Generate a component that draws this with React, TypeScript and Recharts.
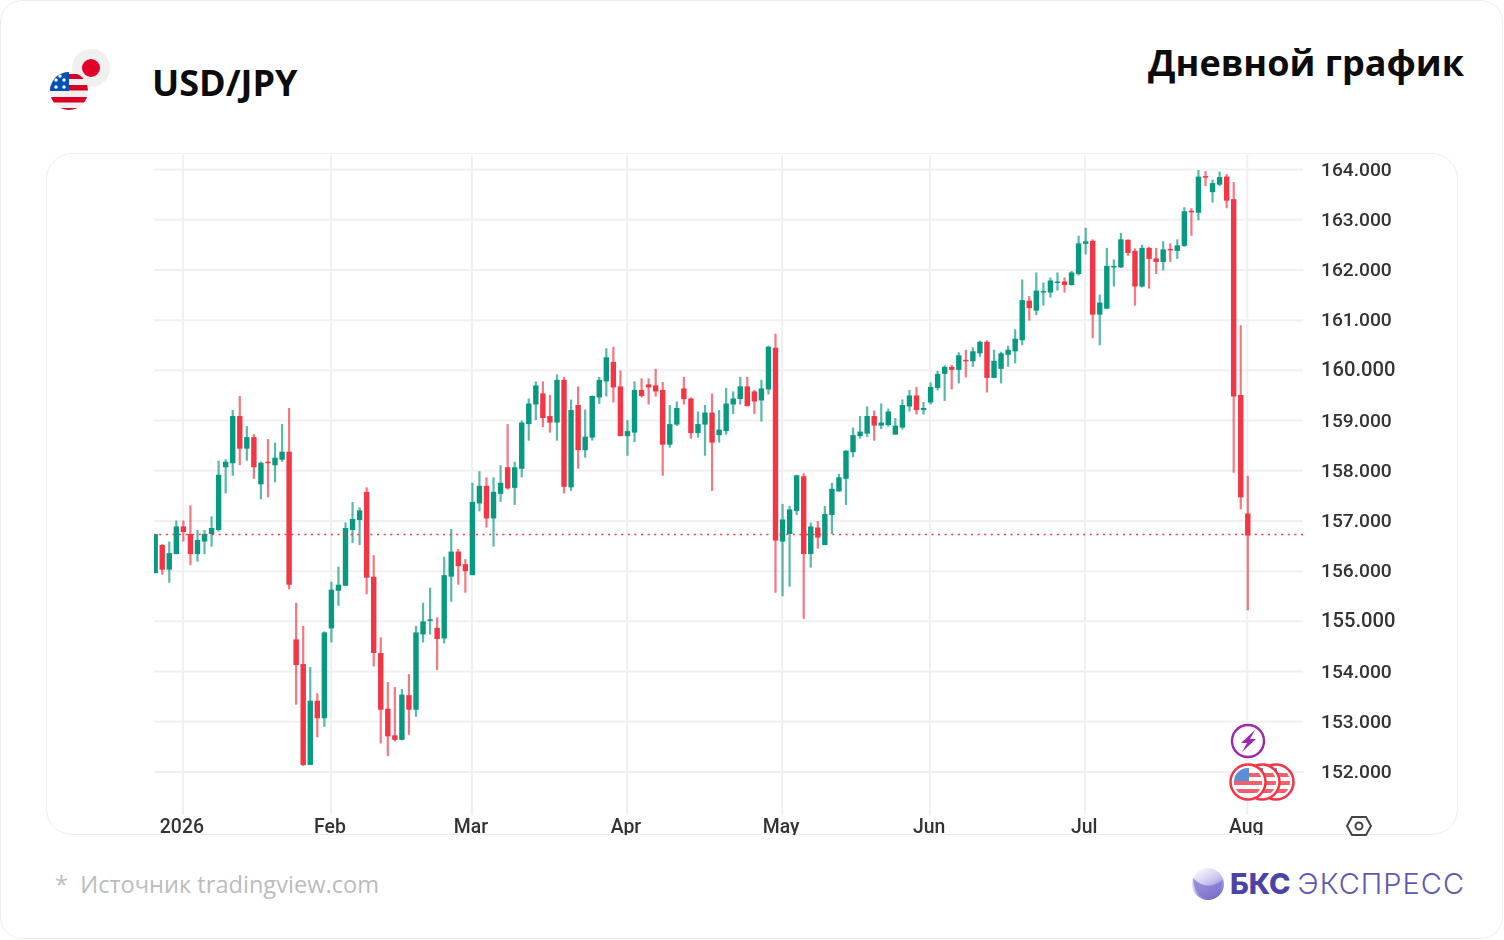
import React from 'react';
import { ComposedChart, Bar, XAxis, YAxis, CartesianGrid, ReferenceLine } from 'recharts';

const opens = [
  155.96, 156.52, 156.03, 156.34, 156.89, 156.74, 156.34, 156.59, 156.74, 156.82,
  158.07, 158.15, 159.09, 158.44, 158.67, 157.73, 158.18, 158.11, 158.22, 158.38,
  154.64, 154.15, 152.14, 153.42, 153.07, 154.86, 155.61, 155.71, 156.82, 157.02,
  157.58, 155.89, 154.37, 153.26, 152.73, 152.64, 153.53, 153.24, 154.74, 155.02,
  154.87, 154.66, 155.89, 156.39, 156.14, 155.92, 157.35, 157.70, 157.05, 157.54,
  158.07, 157.66, 158.04, 158.93, 159.32, 159.54, 159.09, 158.96, 159.81, 157.67,
  159.31, 158.41, 158.66, 159.46, 159.78, 160.17, 159.68, 158.69, 158.76, 159.61,
  159.72, 159.70, 159.61, 158.52, 158.92, 159.64, 159.44, 158.75, 158.92, 159.16,
  158.71, 158.79, 159.32, 159.43, 159.68, 159.58, 159.40, 159.62, 160.45, 156.59,
  156.74, 157.20, 157.89, 156.34, 156.87, 156.52, 157.12, 157.59, 157.84, 158.37,
  158.69, 158.74, 159.09, 158.90, 158.91, 158.72, 158.86, 159.28, 159.50, 159.21,
  159.36, 159.65, 159.93, 160.07, 160.01, 160.21, 160.18, 160.34, 160.57, 159.85,
  160.03, 160.31, 160.38, 160.60, 161.39, 161.19, 161.55, 161.55, 161.75, 161.77,
  161.70, 161.92, 162.52, 162.58, 161.11, 161.23, 162.05, 162.05, 162.60, 162.38,
  161.67, 162.44, 162.23, 162.16, 162.42, 162.38, 162.48, 163.18, 163.14, 163.87,
  163.55, 163.70, 163.86, 163.41, 159.51, 157.15,
];
const closes = [
  156.74, 156.03, 156.36, 156.89, 156.78, 156.34, 156.62, 156.74, 156.86, 157.92,
  158.18, 159.09, 158.44, 158.67, 158.07, 158.16, 158.16, 158.26, 158.38, 155.73,
  154.13, 152.14, 153.42, 153.07, 154.78, 155.63, 155.73, 156.86, 157.04, 157.21,
  155.87, 154.37, 153.24, 152.71, 152.64, 153.54, 153.24, 154.78, 155.00, 155.04,
  154.65, 155.92, 156.39, 156.10, 156.00, 157.38, 157.70, 157.05, 157.58, 157.76,
  157.65, 158.07, 158.96, 159.34, 159.70, 159.05, 158.96, 159.81, 157.68, 159.21,
  158.41, 158.68, 159.49, 159.81, 160.26, 159.66, 158.69, 158.79, 159.61, 159.49,
  159.66, 159.58, 158.52, 158.93, 159.25, 159.43, 158.75, 158.93, 159.16, 158.56,
  158.82, 159.34, 159.44, 159.68, 159.29, 159.38, 159.64, 160.47, 156.61, 157.03,
  157.23, 157.91, 156.34, 156.89, 156.67, 157.14, 157.64, 157.87, 158.40, 158.71,
  158.78, 159.09, 158.90, 158.96, 159.18, 158.90, 159.31, 159.50, 159.21, 159.25,
  159.67, 159.93, 160.07, 160.01, 160.30, 160.18, 160.38, 160.57, 159.85, 160.19,
  160.34, 160.41, 160.63, 161.40, 161.24, 161.59, 161.58, 161.79, 161.77, 161.70,
  161.95, 162.53, 162.57, 161.11, 161.35, 162.08, 162.08, 162.61, 162.34, 161.67,
  162.44, 162.22, 162.16, 162.41, 162.40, 162.49, 163.17, 163.15, 163.86, 163.84,
  163.73, 163.85, 163.38, 159.48, 157.47, 156.71,
];
const highs = [
  156.74, 156.54, 156.59, 157.01, 157.01, 157.31, 156.82, 156.82, 157.09, 158.20,
  158.23, 159.21, 159.49, 158.89, 158.73, 158.18, 158.63, 158.56, 158.93, 159.25,
  155.37, 154.91, 154.09, 153.57, 154.80, 155.79, 156.09, 156.97, 157.38, 157.27,
  157.67, 156.32, 154.68, 153.79, 153.69, 153.65, 153.95, 154.91, 155.37, 155.67,
  155.08, 156.29, 156.84, 156.44, 156.24, 157.76, 157.99, 157.87, 157.87, 158.11,
  158.93, 158.18, 159.00, 159.44, 159.78, 159.78, 159.51, 159.92, 159.87, 159.42,
  159.68, 159.22, 159.50, 159.87, 160.44, 160.47, 160.00, 159.01, 159.78, 159.84,
  159.84, 160.03, 159.77, 159.31, 159.38, 159.87, 159.46, 159.18, 159.31, 159.54,
  159.21, 159.65, 159.58, 159.87, 159.87, 159.61, 159.81, 160.49, 160.73, 157.34,
  157.30, 157.92, 157.95, 156.97, 157.00, 157.30, 157.76, 157.94, 158.41, 158.86,
  159.09, 159.28, 159.20, 159.34, 159.24, 159.05, 159.42, 159.61, 159.67, 159.37,
  159.76, 159.99, 160.10, 160.11, 160.36, 160.41, 160.46, 160.59, 160.60, 160.41,
  160.37, 160.49, 160.82, 161.81, 161.48, 161.95, 161.75, 161.85, 161.95, 161.85,
  161.98, 162.68, 162.84, 162.61, 161.51, 162.44, 162.21, 162.74, 162.61, 162.43,
  162.50, 162.46, 162.44, 162.57, 162.53, 162.61, 163.25, 163.23, 163.99, 163.97,
  163.80, 163.96, 163.91, 163.75, 160.90, 157.90,
];
const lows = [
  155.96, 155.93, 155.77, 156.34, 156.59, 156.12, 156.19, 156.34, 156.49, 156.79,
  157.55, 157.90, 158.11, 158.20, 157.84, 157.43, 157.47, 157.77, 158.18, 155.64,
  153.34, 152.12, 152.14, 152.69, 152.90, 154.58, 155.31, 155.71, 156.56, 156.52,
  155.54, 154.10, 152.57, 152.32, 152.61, 152.63, 152.74, 153.10, 154.58, 154.74,
  154.03, 154.56, 155.39, 155.73, 155.57, 155.92, 157.19, 156.87, 156.49, 157.38,
  157.62, 157.32, 157.87, 158.60, 159.01, 158.87, 158.76, 158.60, 157.55, 157.60,
  158.04, 158.26, 158.60, 159.33, 159.48, 159.36, 158.69, 158.30, 158.57, 159.46,
  159.32, 159.48, 157.90, 158.46, 158.89, 159.32, 158.64, 158.66, 158.30, 157.60,
  158.56, 158.72, 159.13, 159.32, 159.28, 159.13, 158.98, 159.52, 155.57, 155.50,
  155.69, 157.12, 155.05, 156.07, 156.45, 156.52, 156.74, 157.58, 157.32, 158.27,
  158.64, 158.67, 158.60, 158.83, 158.88, 158.72, 158.82, 159.18, 159.12, 159.12,
  159.32, 159.60, 159.39, 159.62, 159.74, 159.86, 160.07, 160.27, 159.56, 159.85,
  159.74, 160.07, 160.14, 160.50, 160.99, 161.10, 161.29, 161.45, 161.59, 161.55,
  161.69, 161.89, 162.31, 160.64, 160.50, 161.22, 161.67, 162.04, 162.28, 161.29,
  161.65, 161.63, 161.92, 161.99, 162.16, 162.22, 162.46, 162.68, 162.99, 163.67,
  163.34, 163.67, 163.23, 157.96, 157.23, 155.22,
];

const monthIndexes = [4, 25, 45, 67, 89, 110, 132, 155];
const monthLabels = ['2026', 'Feb', 'Mar', 'Apr', 'May', 'Jun', 'Jul', 'Aug'];
const priceTicks = [152, 153, 154, 155, 156, 157, 158, 159, 160, 161, 162, 163, 164];
const lastPrice = 156.73;

const UP = '#089981';
const DOWN = '#f23645';
const TICK_FONT = 'Roboto, sans-serif';

const candles = opens.map((open, i) => ({
  index: i,
  open,
  close: closes[i],
  high: highs[i],
  low: lows[i],
  range: [lows[i], highs[i]],
}));

// фитиль и тело считаются от высоты диапазона high-low
const Candle = (props: any) => {
  const { x, y, width, height, payload } = props;
  const { open, close, high, low } = payload;
  const k = height / (high - low || 1);
  const top = y + (high - Math.max(open, close)) * k;
  const bottom = y + (high - Math.min(open, close)) * k;
  const cx = x + width / 2;
  const color = close >= open ? UP : DOWN;
  return (
    <g>
      <rect x={cx - 1.1} y={y} width={2.2} height={height} fill={color} fillOpacity={0.68} />
      <rect x={cx - 2.7} y={top} width={5.4} height={Math.max(bottom - top, 1.5)} fill={color} />
    </g>
  );
};

const PriceTick = (props: any) => {
  const { x, y, payload } = props;
  const wide = payload.value % 5 === 0;
  return (
    <text
      x={x + 12}
      y={y}
      dy={6}
      clipPath="url(#price-clip)"
      fill="#333"
      fontFamily={TICK_FONT}
      fontWeight={500}
      fontSize={wide ? 20.2 : 19.2}
    >
      {payload.value.toFixed(3)}
    </text>
  );
};

const MonthTick = (props: any) => {
  const { x, y, payload } = props;
  return (
    <text
      x={x - 1}
      y={y}
      dy={12}
      textAnchor="middle"
      fill="#333"
      fontFamily={TICK_FONT}
      fontWeight={500}
      fontSize={19.4}
    >
      {monthLabels[monthIndexes.indexOf(payload.value)]}
    </text>
  );
};

const Flag = ({ cx, cy }: { cx: number; cy: number }) => (
  <g>
    <circle cx={cx} cy={cy} r={17.5} fill="#fff" stroke="#f23645" strokeWidth={2.5} />
    <clipPath id={`flag-${cx}`}>
      <circle cx={cx} cy={cy} r={14} />
    </clipPath>
    <g clipPath={`url(#flag-${cx})`}>
      <rect x={cx - 14} y={cy - 9} width={28} height={4} fill="#f0606c" />
      <rect x={cx - 14} y={cy - 1} width={28} height={4} fill="#f0606c" />
      <rect x={cx - 14} y={cy + 7} width={28} height={4} fill="#f0606c" />
      <rect x={cx - 14} y={cy - 14} width={15} height={13} fill="#5a8fd8" />
    </g>
  </g>
);

const Decorations = () => (
  <svg width={1504} height={940} style={{ position: 'absolute', left: 0, top: 0, pointerEvents: 'none' }}>
    <defs>
      <linearGradient id="sphere" x1="0.2" y1="0.1" x2="0.7" y2="1">
        <stop offset="0" stopColor="#f4f2fd" />
        <stop offset="0.45" stopColor="#c9c4ef" />
        <stop offset="1" stopColor="#6a60c4" />
      </linearGradient>
      <clipPath id="us-flag">
        <circle cx={69} cy={91} r={19} />
      </clipPath>
    </defs>

    {/* флаги пары */}
    <circle cx={91} cy={68} r={19} fill="#f0f0f0" />
    <circle cx={91} cy={68} r={9} fill="#e0002a" />
    <circle cx={69} cy={91} r={19} fill="#f0f0f0" />
    <g clipPath="url(#us-flag)">
      <rect x={50} y={74} width={38} height={5} fill="#d80027" />
      <rect x={50} y={85} width={38} height={5.5} fill="#d80027" />
      <rect x={50} y={97} width={38} height={5.5} fill="#d80027" />
      <rect x={50} y={108} width={38} height={3} fill="#d80027" />
      <rect x={50} y={72} width={19} height={19} fill="#0052b4" />
      {[[56, 80], [64, 80], [56, 87], [64, 87], [60, 76]].map(([a, b]) => (
        <circle key={`${a}-${b}`} cx={a} cy={b} r={1.7} fill="#fff" />
      ))}
    </g>

    {/* значки событий */}
    <g style={{ filter: 'blur(0.6px)' }}>
      <circle cx={1248} cy={741} r={16} fill="#fff" stroke="#9c27b0" strokeWidth={2.4} />
      <path d="M1255 730 L1241 743 L1247 743 L1242 752 L1256 739 L1250 739 Z" fill="#9c27b0" />
      <Flag cx={1276} cy={782} />
      <Flag cx={1262} cy={782} />
      <Flag cx={1248} cy={782} />

      {/* значок настроек */}
      <path
        d="M1352 817 L1366 817 L1371 826 L1366 835 L1352 835 L1347 826 Z"
        fill="none"
        stroke="#444"
        strokeWidth={2}
      />
      <circle cx={1359} cy={826} r={3.5} fill="none" stroke="#444" strokeWidth={2} />
    </g>

    <circle cx={1208} cy={884} r={16} fill="url(#sphere)" />
    <path d="M1193 878 Q1206 892 1223 880 Q1219 898 1206 899 Q1194 896 1193 878 Z" fill="#7d74cf" fillOpacity={0.75} />
  </svg>
);

const App: React.FC = () => {
  return (
    <div style={{ position: 'absolute', left: 0, top: 0, width: 1504, height: 940, background: '#fff', overflow: 'hidden', fontFamily: '"Open Sans", sans-serif' }}>
      <div style={{ position: 'absolute', left: 0, top: 0, width: 1501, height: 937, border: '1.5px solid #eeeeee', borderRadius: 22 }} />
      <div style={{ position: 'absolute', left: 46, top: 153, width: 1410, height: 680, border: '1.5px solid #eeeeee', borderRadius: 26 }} />

      <div style={{ position: 'absolute', left: 152, top: 59, fontSize: 36, fontWeight: 700, color: '#0c0c0c', lineHeight: '48px' }}>USD/JPY</div>
      <div style={{ position: 'absolute', right: 40, top: 39, fontSize: 36, fontWeight: 700, color: '#0c0c0c', lineHeight: '48px', whiteSpace: 'nowrap' }}>Дневной график</div>

      <div style={{ position: 'absolute', left: 0, top: 0, filter: 'blur(0.7px)' }}>
        <ComposedChart
          width={1504}
          height={940}
          data={candles}
          margin={{ top: 155, right: 101, bottom: 95, left: 154 }}
        >
          <defs>
            <clipPath id="price-clip">
              <rect x={1310} y={150} width={85} height={660} />
            </clipPath>
          </defs>
          <CartesianGrid stroke="#f0f0f2" strokeWidth={2} horizontalValues={priceTicks} verticalValues={monthIndexes} />
          <XAxis
            dataKey="index"
            type="number"
            domain={[-0.1, 162.9]}
            allowDataOverflow
            ticks={monthIndexes}
            axisLine={false}
            tickLine={false}
            height={30}
            interval={0}
            tick={<MonthTick />}
            tickMargin={0}
          />
          <YAxis
            orientation="right"
            domain={[151.143, 164.29]}
            allowDataOverflow
            ticks={priceTicks}
            width={100}
            axisLine={false}
            tickLine={false}
            interval={0}
            tick={<PriceTick />}
            tickMargin={0}
          />
          <ReferenceLine y={lastPrice} stroke={DOWN} strokeWidth={1.6} strokeDasharray="2 4.6" />
          <Bar dataKey="range" barSize={6} shape={<Candle />} isAnimationActive={false} />
        </ComposedChart>
      </div>

      <div style={{ position: 'absolute', left: 40, top: 835, width: 1430, height: 12, background: '#fff' }} />
      <div style={{ position: 'absolute', left: 55, top: 867, fontSize: 23.6, color: '#bcbcbc', whiteSpace: 'pre', lineHeight: '34px' }}>*  Источник tradingview.com</div>

      <Decorations />

      <div style={{ position: 'absolute', left: 1230, top: 866, fontFamily: 'Inter, sans-serif', fontSize: 29, fontWeight: 800, color: '#4b43a5', lineHeight: '36px' }}>БКС</div>
      <div style={{ position: 'absolute', right: 39, top: 866, fontFamily: 'Inter, sans-serif', fontSize: 29, fontWeight: 300, letterSpacing: 1, color: '#5f58b0', lineHeight: '36px', whiteSpace: 'nowrap' }}>ЭКСПРЕСС</div>
    </div>
  );
};

export default App;
